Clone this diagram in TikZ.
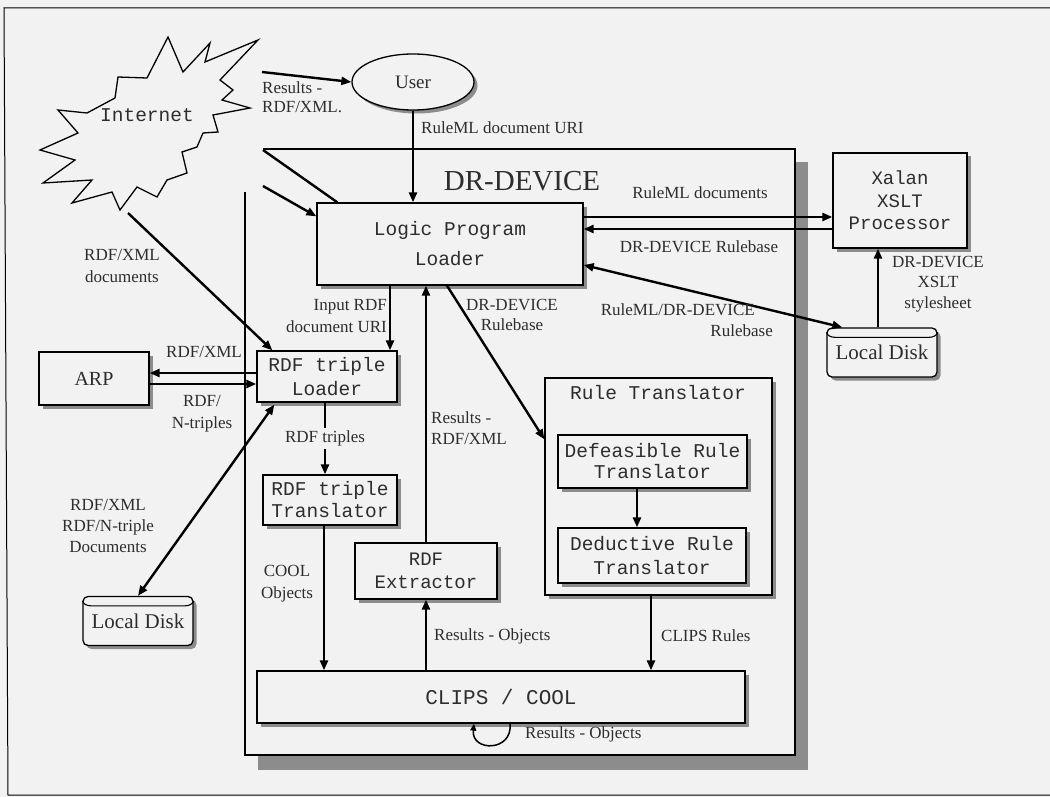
\documentclass[tikz,border=0pt]{standalone}
\usepackage{fontspec}
\setmainfont{Liberation Serif}
\newfontfamily\monof{Liberation Mono}
\usetikzlibrary{arrows.meta,shapes.geometric,shadows}
\definecolor{bgc}{RGB}{242,242,242}
\definecolor{txt}{RGB}{45,45,45}
\newcommand\monotext{\monof\fontsize{19.5}{23}\selectfont}
\newcommand\lbl{\fontsize{17}{21}\selectfont}
\begin{document}
\begin{tikzpicture}[x=1pt,y=-1pt,
  shd/.style={drop shadow={shadow xshift=3.5pt,shadow yshift=-3.5pt,fill=black!45,opacity=1}},
  bx/.style={draw=black,line width=1.3pt,fill=bgc,inner sep=0pt,text=txt,align=center,font=\monotext,shd},
  disk/.style={draw=black,line width=1.3pt,fill=bgc,rounded corners=5pt,inner sep=0pt,text=txt,font=\fontsize{21}{23}\selectfont,minimum width=110,minimum height=49,shd},
  lab/.style={font=\lbl,text=txt,inner sep=1pt},
  arr/.style={line width=2.4pt,-{Triangle[length=10pt,width=8pt]}},
  darr/.style={line width=2.4pt,{Triangle[length=10pt,width=8pt]}-{Triangle[length=10pt,width=8pt]}},
  ln/.style={line width=2.4pt}
]
\useasboundingbox (0,0) rectangle (1050,797);
\fill[bgc] (0,0) rectangle (1050,797);
% outer frame
\draw[line width=1pt] (1060,8) -- (4,8) -- (8,795) -- (1060,795);

% DR-DEVICE container
\fill[black!45] (258,162) rectangle (808,770);
\fill[bgc] (245,149) rectangle (795,755);
\draw[line width=1.2pt] (245,192) -- (245,755) -- (795,755) -- (795,149) -- (263,149);
\node[font=\fontsize{29}{30}\selectfont,text=txt] (drt) at (522,181) {DR-DEVICE};

% Internet starburst
\draw[line width=1.3pt,fill=bgc] (168,37) -- (183,72) -- (210,43) -- (205,62) -- (258,40) -- (220,80) -- (233,90) -- (222,100) -- (250,108) -- (213,115) -- (218,132) -- (203,133) -- (197,147) -- (182,152) -- (187,173) -- (167,180) -- (157,197) -- (137,187) -- (120,210) -- (112,192) -- (72,203) -- (92,180) -- (43,183) -- (75,160) -- (40,150) -- (78,133) -- (58,110) -- (87,113) -- (115,98) -- (118,77) -- (147,78) -- cycle;
\node[font=\monotext,text=txt] (inet) at (147,115) {Internet};
\coordinate (i1) at (262,72);
\coordinate (i2) at (263,150);
\coordinate (i3) at (263,186);
\coordinate (i4) at (128,213);

% User
\node[draw=black,ellipse,line width=1.3pt,fill=bgc,minimum width=122,minimum height=56,font=\fontsize{19}{21}\selectfont,text=txt,shd] (user) at (413,82) {User};

% boxes
\node[bx,minimum width=266,minimum height=82,font=\monof\fontsize{19.5}{30}\selectfont] (lpl) at (450,244) {Logic Program\\Loader};
\node[bx,minimum width=134,minimum height=95,font=\monof\fontsize{19}{22.5}\selectfont] (xalan) at (900,200.5) {Xalan\\XSLT\\Processor};
\node[bx,minimum width=110,minimum height=53,font=\fontsize{20}{22}\selectfont] (arp) at (94,378.5) {ARP};
\node[bx,minimum width=140,minimum height=51,font=\monof\fontsize{19.5}{24}\selectfont] (loader) at (327,376.5) {RDF triple\\Loader};
\node[bx,minimum width=134,minimum height=50,font=\monof\fontsize{19.5}{22}\selectfont] (trans) at (330,500) {RDF triple\\Translator};
\node[bx,minimum width=142,minimum height=56,font=\monof\fontsize{19}{23}\selectfont] (extr) at (426,571) {RDF\\Extractor};
\node[bx,minimum width=227,minimum height=217] (rt) at (658.5,486.5) {};
\node[font=\monotext,text=txt] (rtt) at (658,393) {Rule Translator};
\node[bx,minimum width=189,minimum height=53,font=\monof\fontsize{19.5}{21}\selectfont] (def) at (652.5,461.5) {Defeasible Rule\\Translator};
\node[bx,minimum width=188,minimum height=55,font=\monof\fontsize{19.5}{24}\selectfont] (ded) at (652,555.5) {Deductive Rule\\Translator};
\node[bx,minimum width=488,minimum height=52,font=\monof\fontsize{21}{23}\selectfont] (clips) at (501,697) {CLIPS / COOL};

% local disks
\node[disk] (ldr) at (882,352.5) {Local Disk};
\draw[line width=1.1pt] ([shift={(0,5)}]ldr.north west) to[out=-70,in=180] ([shift={(9,10)}]ldr.north west) -- ([shift={(-9,10)}]ldr.north east) to[out=0,in=250] ([shift={(0,5)}]ldr.north east);
\node[disk] (ldl) at (138,621) {Local Disk};
\draw[line width=1.1pt] ([shift={(0,5)}]ldl.north west) to[out=-70,in=180] ([shift={(9,10)}]ldl.north west) -- ([shift={(-9,10)}]ldl.north east) to[out=0,in=250] ([shift={(0,5)}]ldl.north east);

% connectors
\draw[arr] (i1) -- (user.west);
\draw[arr] (user.south) -- (user.south |- lpl.north);
\draw[ln] (i2) -- ([shift={(21,0)}]lpl.north west);
\draw[arr] (i3) -- ([shift={(0,14)}]lpl.north west);
\draw[arr] (i4) -- ([shift={(16,0)}]loader.north west);
\draw[arr] (lpl.east |- 0,217) -- (xalan.west |- 0,217);
\draw[arr] (xalan.west |- 0,229) -- (lpl.east |- 0,229);
\draw[darr] (lpl.east |- 0,265) -- ([shift={(16,0)}]ldr.north west);
\draw[arr] (ldr.north -| 878,0) -- (xalan.south -| 878,0);
\draw[arr] (lpl.south -| 390,0) -- (loader.north -| 390,0);
\draw[arr] (extr.north) -- (extr.north |- lpl.south);
\draw[arr] (lpl.south -| 447,0) -- ([shift={(0,62)}]rt.north west);
\draw[arr] (loader.west |- 0,373) -- (arp.east |- 0,373);
\draw[arr] (arp.east |- 0,384) -- (loader.west |- 0,384);
\draw[darr] ([shift={(18,2)}]loader.south west) -- (ldl.north);
\draw[arr] (loader.south -| 325,0) -- node[lab,fill=bgc,inner sep=3pt] (lrt) {RDF triples} (trans.north -| 325,0);
\draw[arr] (trans.south -| 324,0) -- (clips.north -| 324,0);
\draw[arr] (clips.north -| extr.south) -- (extr.south);
\draw[arr] (rt.south -| 651,0) -- (clips.north -| 651,0);
\draw[arr] (def.south -| 637,0) -- (ded.north -| 637,0);
\draw[line width=1.5pt,-{Triangle[length=7pt,width=6pt]}] (clips.south -| 510,0) .. controls (513,752) and (471,752) .. (clips.south -| 474,0);

% labels
\node[lab,anchor=west,align=left,font=\fontsize{17}{19}\selectfont] (lres1) at (261,97) {Results -\\RDF/XML.};
\node[lab,anchor=west] (luri) at (420,128) {RuleML document URI};
\node[lab] (lrd) at (700,193) {RuleML documents};
\node[lab] (lrb) at (699,247) {DR-DEVICE Rulebase};
\node[lab,anchor=east,align=right] (lrdr) at (774,320) {RuleML/DR-DEVICE\hspace*{18pt}\\Rulebase};
\node[lab,align=center,font=\fontsize{17}{20.5}\selectfont] (lxs) at (938,284) {DR-DEVICE\\XSLT\\stylesheet};
\node[lab,align=center,font=\fontsize{17}{22}\selectfont] (lrxd) at (122,266) {RDF/XML\\documents};
\node[lab] (lrx) at (204,352) {RDF/XML};
\node[lab,align=center,font=\fontsize{17}{22}\selectfont] (lnt) at (202,414) {RDF/\\N-triples};
\node[lab,anchor=east,align=right,font=\fontsize{17}{22}\selectfont] (linp) at (388,316) {Input RDF\\document URI};
\node[lab,align=center,font=\fontsize{17}{20}\selectfont] (ldrb) at (512,315) {DR-DEVICE\\Rulebase};
\node[lab,anchor=west,align=left] (lrrx) at (430,428) {Results -\\RDF/XML};
\node[lab,align=center] (lrnt) at (108,526) {RDF/XML\\RDF/N-triple\\Documents};
\node[lab,align=center,font=\fontsize{17}{22}\selectfont] (lcool) at (287,584) {COOL\\Objects};
\node[lab,anchor=west] (lro) at (433,636) {Results - Objects};
\node[lab,anchor=west] (lcr) at (660,636) {CLIPS Rules};
\node[lab,anchor=west] (lro2) at (524,734) {Results - Objects};
\end{tikzpicture}
\end{document}
